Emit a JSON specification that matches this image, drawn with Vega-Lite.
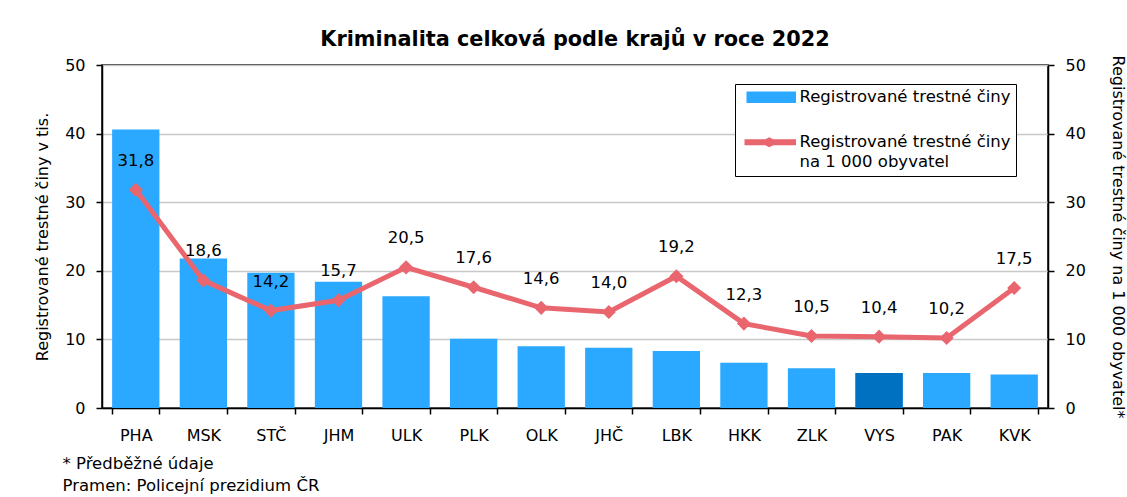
{
  "$schema": "https://vega.github.io/schema/vega-lite/v6.json",
  "width": 946,
  "height": 343,
  "autosize": {"type": "none"},
  "padding": {"left": 102, "top": 65, "right": 79, "bottom": 89},
  "background": "white",
  "title": {
    "text": "Kriminalita celková podle krajů v roce 2022",
    "font": "DejaVu Sans",
    "fontSize": 20.8,
    "fontWeight": "bold",
    "color": "#000000",
    "anchor": "middle",
    "frame": "group",
    "baseline": "alphabetic",
    "offset": -12
  },
  "config": {
    "font": "DejaVu Sans",
    "view": {"stroke": "#000000", "strokeWidth": 1.5},
    "locale": {"number": {"decimal": ",", "thousands": " ", "grouping": [3], "currency": ["", " Kč"]}},
    "axis": {
      "labelFont": "DejaVu Sans",
      "labelFontSize": 16,
      "labelColor": "#000000",
      "titleFont": "DejaVu Sans",
      "titleFontSize": 16,
      "titleFontWeight": "normal",
      "titleColor": "#000000",
      "domainColor": "#000000",
      "domainWidth": 1.5,
      "tickColor": "#000000",
      "tickWidth": 1.5,
      "tickSize": 6
    }
  },
  "data": {
    "values": [
      {"kraj": "PHA", "tis": 40.6, "obyv": 31.8},
      {"kraj": "MSK", "tis": 21.8, "obyv": 18.6},
      {"kraj": "STČ", "tis": 19.7, "obyv": 14.2},
      {"kraj": "JHM", "tis": 18.4, "obyv": 15.7},
      {"kraj": "ULK", "tis": 16.3, "obyv": 20.5},
      {"kraj": "PLK", "tis": 10.1, "obyv": 17.6},
      {"kraj": "OLK", "tis": 9.0, "obyv": 14.6},
      {"kraj": "JHČ", "tis": 8.8, "obyv": 14.0},
      {"kraj": "LBK", "tis": 8.3, "obyv": 19.2},
      {"kraj": "HKK", "tis": 6.6, "obyv": 12.3},
      {"kraj": "ZLK", "tis": 5.8, "obyv": 10.5},
      {"kraj": "VYS", "tis": 5.1, "obyv": 10.4},
      {"kraj": "PAK", "tis": 5.1, "obyv": 10.2},
      {"kraj": "KVK", "tis": 4.9, "obyv": 17.5}
    ]
  },
  "encoding": {
    "x": {
      "field": "kraj",
      "type": "nominal",
      "sort": null,
      "scale": {"paddingInner": 0.3, "paddingOuter": 0.15},
      "axis": {
        "labelAngle": 0,
        "labelPadding": 13,
        "tickBand": "extent",
        "grid": false,
        "title": ["* Předběžné údaje", "Pramen: Policejní prezidium ČR"],
        "titleFontSize": 16.5,
        "titleAnchor": "start",
        "titleAlign": "left",
        "titleBaseline": "top",
        "titleX": -40,
        "titleY": 47,
        "titleLineHeight": 22
      }
    }
  },
  "layer": [
    {
      "layer": [
        {
          "mark": {"type": "bar"},
          "encoding": {
            "y": {
              "field": "tis",
              "type": "quantitative",
              "scale": {"domain": [0, 50]},
              "axis": {
                "title": "Registrované trestné činy v tis.",
                "orient": "left",
                "values": [0, 10, 20, 30, 40, 50],
                "grid": true,
                "gridColor": "#C8C8C8",
                "gridWidth": 1.5,
                "labelPadding": 11,
                "titlePadding": 14
              }
            },
            "color": {
              "datum": "Registrované trestné činy",
              "type": "nominal",
              "scale": {
                "domain": ["Registrované trestné činy", "Registrované trestné činy na 1 000 obyvatel"],
                "range": ["#2BA8FF", "#E9666F"]
              },
              "legend": {
                "orient": "none",
                "legendX": 633,
                "legendY": 19,
                "title": null,
                "strokeColor": "#000000",
                "fillColor": "#FFFFFF",
                "padding": 5,
                "labelFont": "DejaVu Sans",
                "labelFontSize": 16.5,
                "labelColor": "#000000",
                "labelOffset": 43,
                "labelLimit": 400,
                "rowPadding": 28,
                "symbolSize": 144,
                "labelExpr": "datum.label == 'Registrované trestné činy na 1 000 obyvatel' ? ['Registrované trestné činy', 'na 1 000 obyvatel'] : datum.label",
                "encode": {
                  "symbols": {
                    "update": {
                      "shape": {"signal": "datum.value == 'Registrované trestné činy' ? 'M-0.17,-0.83H7.83V0.83H-0.17Z' : 'M-0.5,-0.36H2.83L3.5,-0.7L4.17,-0.36H7.83V0.36H4.17L3.5,0.7L2.83,0.36H-0.5Z'"},
                      "fill": {"signal": "datum.value == 'Registrované trestné činy' ? '#2BA8FF' : '#E9666F'"}
                    }
                  },
                  "labels": {
                    "update": {"lineHeight": {"value": 20}}
                  }
                }
              }
            }
          }
        },
        {
          "transform": [{"filter": "datum.kraj === 'VYS'"}],
          "mark": {"type": "bar", "color": "#0070C0"},
          "encoding": {
            "y": {"field": "tis", "type": "quantitative"}
          }
        }
      ]
    },
    {
      "layer": [
        {
          "mark": {
            "type": "line",
            "strokeWidth": 5,
            "point": {"shape": "diamond", "size": 200, "filled": true}
          },
          "encoding": {
            "y": {
              "field": "obyv",
              "type": "quantitative",
              "scale": {"domain": [0, 50]},
              "axis": {
                "title": "Registrované trestné činy na 1 000 obyvatel*",
                "orient": "right",
                "values": [0, 10, 20, 30, 40, 50],
                "grid": false,
                "labelPadding": 11,
                "titlePadding": 24
              }
            },
            "color": {"datum": "Registrované trestné činy na 1 000 obyvatel", "type": "nominal"}
          }
        },
        {
          "mark": {"type": "text", "dy": -29, "fontSize": 16.5, "font": "DejaVu Sans", "color": "#000000"},
          "encoding": {
            "y": {"field": "obyv", "type": "quantitative"},
            "text": {"field": "obyv", "type": "quantitative", "format": ".1f"}
          }
        }
      ]
    }
  ],
  "resolve": {"scale": {"y": "independent"}}
}
